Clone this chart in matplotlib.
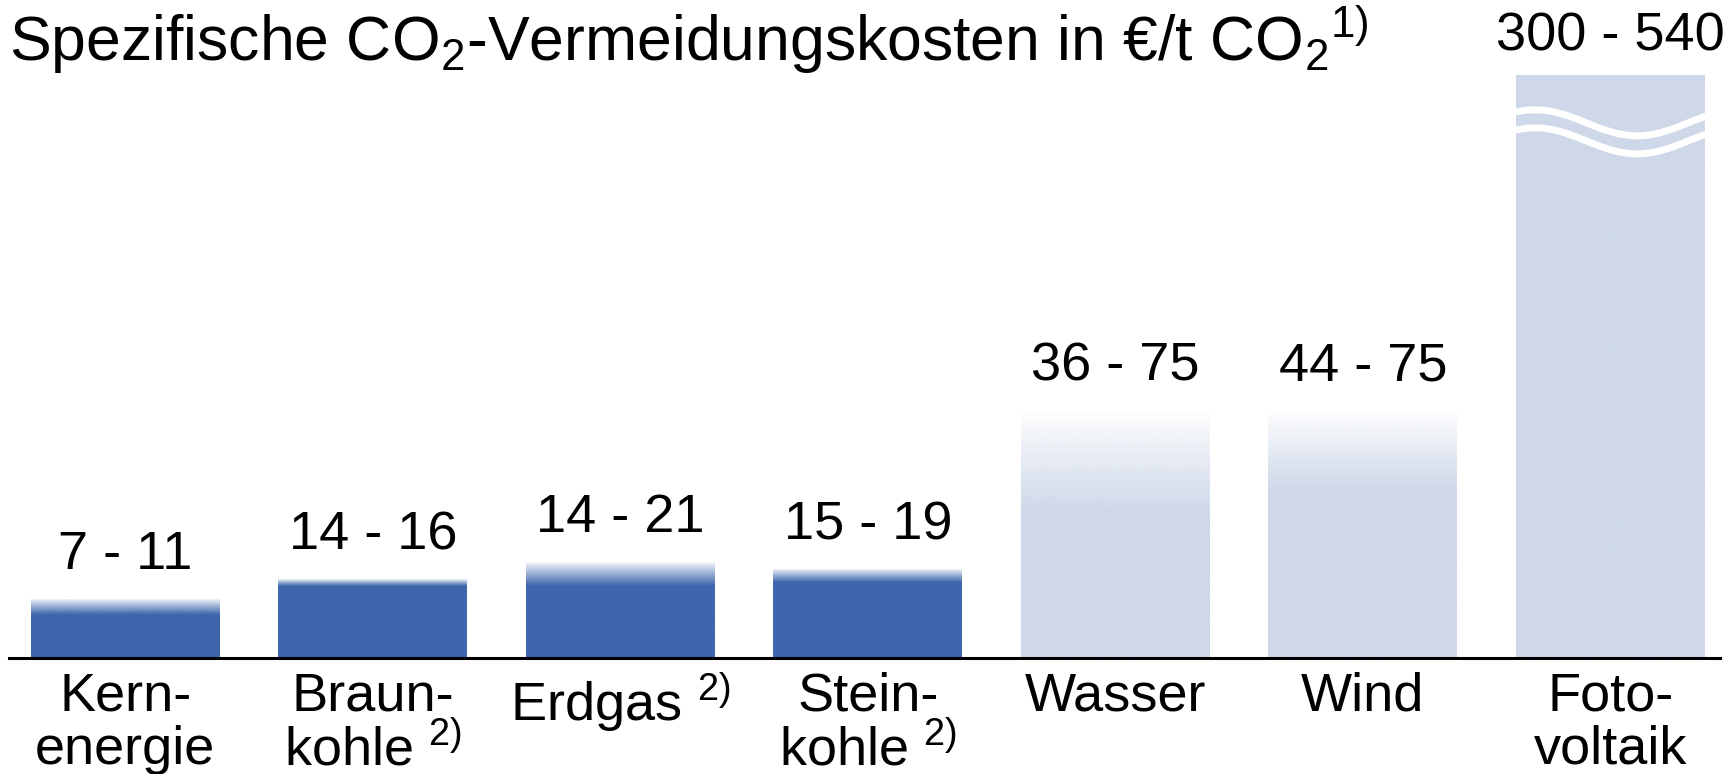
import numpy as np
import matplotlib
matplotlib.use("Agg")
import matplotlib.pyplot as plt
from matplotlib.colors import to_rgb

# --- data ------------------------------------------------------------------
categories = [
    "Kern-\nenergie",
    "Braun-\nkohle ${}^{2)}$",
    "Erdgas ${}^{2)}$",
    "Stein-\nkohle ${}^{2)}$",
    "Wasser",
    "Wind",
    "Foto-\nvoltaik",
]
cost_low = [7, 14, 14, 15, 36, 44, 300]      # EUR / t CO2
cost_high = [11, 16, 21, 19, 75, 75, 540]
fossil = [True, True, True, True, False, False, False]

title = r"Spezifische C$\mathrm{O}_2$-Vermeidungskosten in €/t C$\mathrm{O}_2{}^{1)}$"

DARK = "#3E66AC"
LIGHT = "#CED8E9"
P = 0.74          # power scale, the original is not drawn to scale
Y_TOP = 238

plt.rcParams.update({
    "font.family": ["Liberation Sans", "DejaVu Sans"],
    "mathtext.fontset": "custom",
    "mathtext.rm": "Liberation Sans",
    "mathtext.it": "Liberation Sans:italic",
    "mathtext.bf": "Liberation Sans:bold",
    "mathtext.default": "regular",
})

W, H = 1728, 774
fig = plt.figure(figsize=(W / 100, H / 100), dpi=100)
ax = fig.add_axes([9 / W, 116 / H, 1711 / W, 583 / H])

ax.set_yscale("function",
              functions=(lambda v: np.power(np.clip(v, 0, None), P),
                         lambda v: np.power(np.clip(v, 0, None), 1 / P)))

x = np.arange(len(categories))
width = 0.763
colors = [DARK if f else LIGHT for f in fossil]

# full bar outline (0 .. upper bound), filled with a gradient that is
# opaque up to the lower bound and fades out towards the upper bound
bars = ax.bar(x, cost_high, width=width, color="none", linewidth=0, zorder=2)
for bar, xi, lo, hi, c in zip(bars, x, cost_low, cost_high, colors):
    v = np.linspace(0, hi, 800)
    rgba = np.zeros((len(v), 1, 4))
    rgba[:, 0, :3] = to_rgb(c)
    rgba[:, 0, 3] = np.clip((hi - v) / (hi - lo), 0, 1)
    im = ax.imshow(rgba, extent=(xi - width, xi + width, 0, hi),
                   origin="lower", aspect="auto", interpolation="bilinear",
                   zorder=2)
    # path form keeps the axes clip box as well
    im.set_clip_path(bar.get_path(), bar.get_transform())

# value labels
for xi, lo, hi in zip(x, cost_low, cost_high):
    top = min(hi, Y_TOP)
    off = 31 if hi <= Y_TOP else 28
    ax.annotate(f"{lo} - {hi}", (xi, top), xytext=(0, off),
                textcoords="offset points", ha="center", va="center",
                fontsize=39, annotation_clip=False)

# break marks on the clipped bar
for xi, hi in zip(x, cost_high):
    if hi > Y_TOP:
        tt = np.linspace(0, 1, 100)
        xs = xi - width / 2 + tt * width * 1.02
        wave = 0.0223 * np.cos(2 * np.pi * (tt - 0.1) / 1.06)
        for yc in (0.918, 0.887):
            ax.plot(xs, yc + wave, color="white", lw=5,
                    transform=ax.get_xaxis_transform(), zorder=3,
                    solid_capstyle="butt")

ax.set_xlim(-0.470, 6.443)
ax.set_ylim(0, Y_TOP)
ax.set_xticks(x)
ax.set_xticklabels(categories, fontsize=39, linespacing=1.07)
ax.tick_params(axis="x", length=0, pad=10)
ax.set_yticks([])
ax.yaxis.set_minor_locator(matplotlib.ticker.NullLocator())
for s in ("top", "left", "right"):
    ax.spines[s].set_visible(False)
ax.spines["bottom"].set_linewidth(2.2)
ax.spines["bottom"].set_zorder(4)

fig.text(9 / W, 1 - 40 / H, title, fontsize=45, ha="left", va="center")

fig.savefig("out.png", dpi=100)
